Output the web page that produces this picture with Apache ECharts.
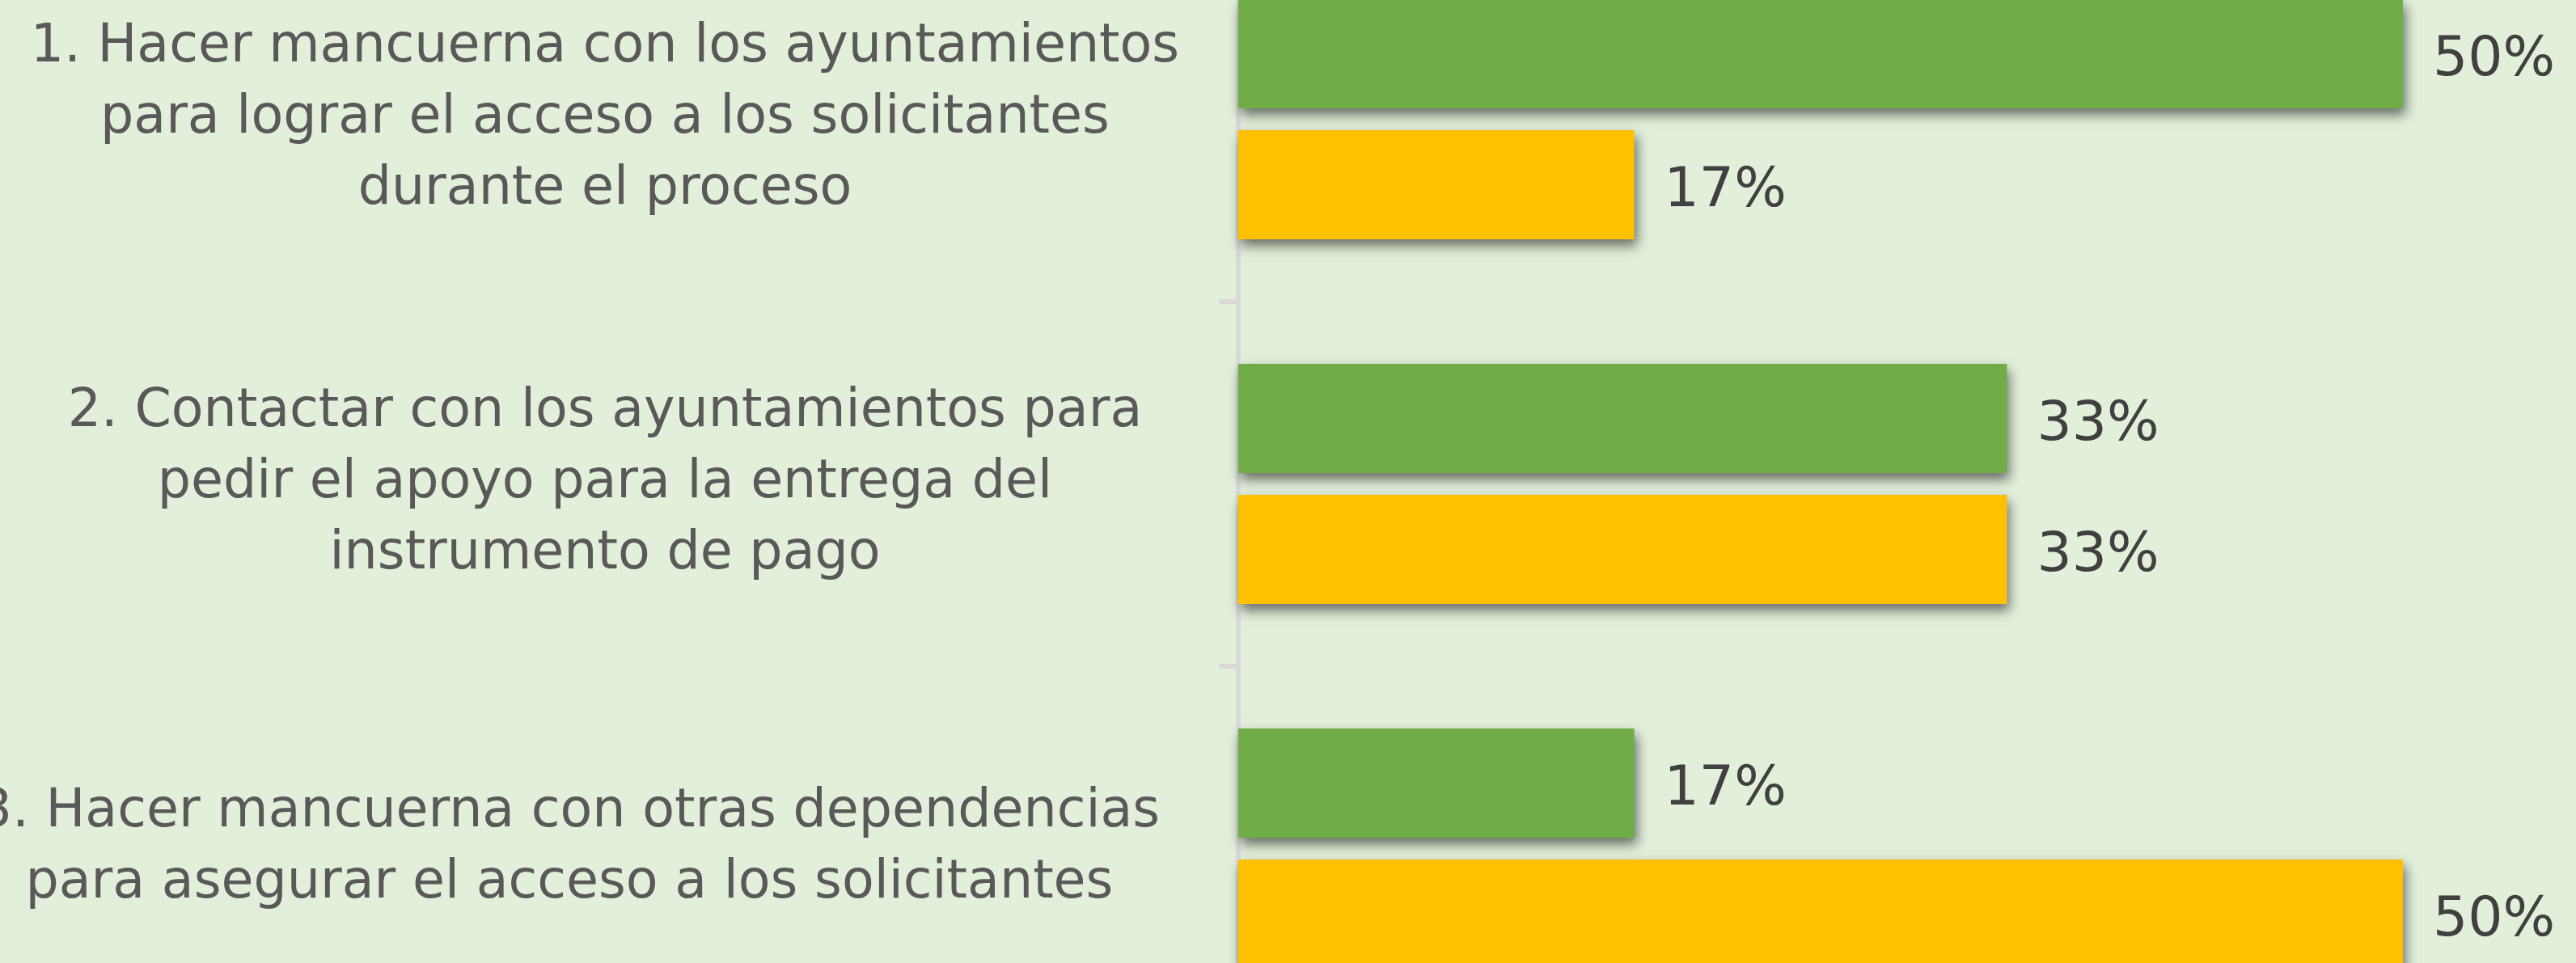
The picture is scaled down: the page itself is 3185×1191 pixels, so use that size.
<!DOCTYPE html>
<html>
<head>
<meta charset="utf-8">
<script src="https://cdn.jsdelivr.net/npm/echarts@6/dist/echarts.min.js"></script>
<style>
  html, body { margin: 0; padding: 0; background: #E2EFDA; }
  #chart { width: 3185px; height: 1191px; }
</style>
</head>
<body>
<div id="chart"></div>
<script>
// Acciones propuestas (eje de categorías, de arriba hacia abajo)
const categories = [
  '1. Hacer mancuerna con los ayuntamientos\npara lograr el acceso a los solicitantes\ndurante el proceso',
  '2. Contactar con los ayuntamientos para\npedir el apoyo para la entrega del\ninstrumento de pago',
  '3. Hacer mancuerna con otras dependencias\npara asegurar el acceso a los solicitantes'
];

// Porcentajes por serie
const serieVerde = [50, 33, 17];
const serieAmarilla = [17, 33, 50];

const FONT = '"DejaVu Sans", sans-serif';

const chart = echarts.init(document.getElementById('chart'), null, { renderer: 'canvas' });

const barShadow = {
  shadowColor: 'rgba(0, 0, 0, 0.55)',
  shadowBlur: 14,
  shadowOffsetX: 3,
  shadowOffsetY: 8
};

const valueLabel = {
  show: true,
  position: 'right',
  distance: 37,
  offset: [0, 9],
  formatter: p => p.value + '%',
  fontFamily: FONT,
  fontSize: 68,
  color: '#404040'
};

chart.setOption({
  backgroundColor: '#E2EFDA',
  animation: false,
  grid: {
    left: 1531, right: 70, top: -78, bottom: -84,
    outerBoundsMode: 'none',
    containLabel: false
  },
  xAxis: {
    type: 'value',
    min: 0,
    max: 55,
    show: false
  },
  yAxis: {
    type: 'category',
    inverse: true,
    offset: 3,
    data: categories.map((c, i) => i === 2
      ? { value: c, textStyle: { align: 'center', padding: [22, 88, 0, 0] } }
      : c),
    axisLine: { show: true, lineStyle: { color: '#D9D9D9', width: 6 } },
    axisTick: { show: true, length: 24, lineStyle: { color: '#D9D9D9', width: 6 } },
    splitLine: { show: false },
    axisLabel: {
      interval: 0,
      margin: 780,
      align: 'center',
      padding: [22, 0, 0, 0],
      fontFamily: FONT,
      fontSize: 65,
      lineHeight: 88,
      color: '#595959'
    }
  },
  series: [
    {
      name: 'Serie 1',
      type: 'bar',
      data: serieVerde,
      barWidth: 135,
      barGap: '20%',
      itemStyle: Object.assign({ color: '#70AD47' }, barShadow),
      label: valueLabel
    },
    {
      name: 'Serie 2',
      type: 'bar',
      data: serieAmarilla,
      barWidth: 135,
      barGap: '20%',
      itemStyle: Object.assign({ color: '#FFC000' }, barShadow),
      label: valueLabel
    }
  ]
});
</script>
</body>
</html>
